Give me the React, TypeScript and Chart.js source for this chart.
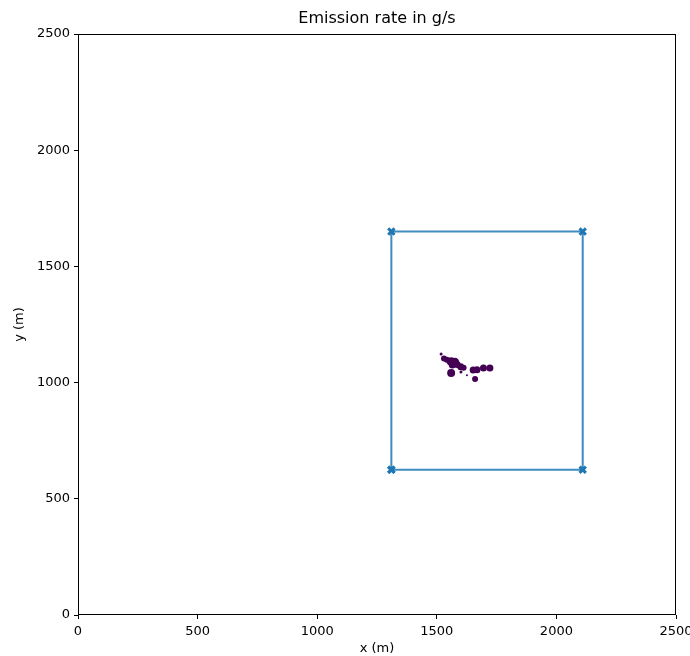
import React, { useEffect, useRef } from "react";
import { Chart, registerables } from "chart.js";

Chart.register(...registerables);

const TITLE = "Emission rate in g/s";
const X_LABEL = "x (m)";
const Y_LABEL = "y (m)";
const AXIS_MIN = 0;
const AXIS_MAX = 2500;
const TICK_STEP = 500;

// Domain rectangle corners (m)
const rectX = [1310, 2110, 2110, 1310, 1310];
const rectY = [625, 625, 1650, 1650, 625];

// Emission blobs (m) and their sizes (px radius)
const blobX = [1518, 1530, 1542, 1560, 1575, 1585, 1565, 1560, 1600, 1612, 1601, 1626, 1652, 1668, 1695, 1722, 1660];
const blobY = [1123, 1104, 1098, 1090, 1088, 1078, 1076, 1041, 1068, 1064, 1046, 1032, 1054, 1055, 1063, 1063, 1016];
const blobR = [1.5, 3, 3, 4.5, 4.5, 3.5, 3.5, 4, 3.5, 3, 1.5, 1, 3.5, 3.5, 3.5, 3.5, 3];

const BLUE = "#1f77b4";
const PURPLE = "#440154";
const FONT = "DejaVu Sans";

export default function App() {
  const ref = useRef<HTMLCanvasElement | null>(null);

  useEffect(() => {
    document.body.style.margin = "0";
    const canvas = ref.current!;
    const framePlugin = {
      id: "frame",
      afterDraw(chart: any) {
        const { ctx, chartArea } = chart;
        ctx.save();
        ctx.strokeStyle = "#000";
        ctx.lineWidth = 1;
        ctx.strokeRect(chartArea.left + 0.5, chartArea.top + 0.5, chartArea.right - chartArea.left - 1, chartArea.bottom - chartArea.top - 1);
        ctx.fillStyle = "#000";
        ctx.font = `16px '${FONT}'`;
        ctx.textAlign = "center";
        ctx.textBaseline = "middle";
        ctx.fillText(TITLE, (chartArea.left + chartArea.right) / 2, 19);
        ctx.restore();
      },
    };

    const ticks: number[] = [];
    for (let v = AXIS_MIN; v <= AXIS_MAX; v += TICK_STEP) ticks.push(v);

    const chart = new Chart(canvas, {
      type: "scatter",
      data: {
        datasets: [
          {
            label: "blobs",
            data: blobX.map((x, i) => ({ x, y: blobY[i] })),
            backgroundColor: PURPLE,
            borderColor: PURPLE,
            borderWidth: 0,
            pointRadius: blobR,
            showLine: false,
          },
          {
            label: "domain",
            data: rectX.map((x, i) => ({ x, y: rectY[i] })),
            showLine: true,
            borderColor: "rgba(31,119,180,0.85)",
            borderWidth: 2,
            pointStyle: "crossRot",
            pointRadius: 4.5,
            pointBorderWidth: 3,
            pointBorderColor: BLUE,
            pointBackgroundColor: BLUE,
          },
        ],
      },
      options: {
        animation: false,
        responsive: false,
        maintainAspectRatio: false,
        layout: { padding: { top: 34, right: 14, left: 0, bottom: 0 } },
        plugins: {
          legend: { display: false },
          tooltip: { enabled: false },
          title: { display: false },
        },
        scales: {
          x: {
            type: "linear",
            min: AXIS_MIN,
            max: AXIS_MAX,
            afterBuildTicks: (s: any) => {
              s.ticks = ticks.map((v) => ({ value: v }));
            },
            afterFit: (s: any) => {
              s.height = 41;
              s.paddingLeft = 0;
              s.paddingRight = 0;
            },
            grid: { drawOnChartArea: false, drawTicks: true, tickLength: 4, color: "#000" },
            border: { display: false },
            ticks: { color: "#000", font: { family: FONT, size: 13 }, padding: 5, maxRotation: 0, autoSkip: false, callback: (v: any) => String(v) },
            title: { display: true, text: X_LABEL, color: "#000", font: { family: FONT, size: 13 }, padding: { top: 4, bottom: 0 } },
          },
          y: {
            type: "linear",
            min: AXIS_MIN,
            max: AXIS_MAX,
            afterBuildTicks: (s: any) => {
              s.ticks = ticks.map((v) => ({ value: v }));
            },
            afterFit: (s: any) => {
              s.width = 78;
              s.paddingTop = 0;
              s.paddingBottom = 0;
            },
            grid: { drawOnChartArea: false, drawTicks: true, tickLength: 4, color: "#000" },
            border: { display: false },
            ticks: { color: "#000", font: { family: FONT, size: 13 }, padding: 4, autoSkip: false, callback: (v: any) => String(v) },
            title: { display: true, text: Y_LABEL, color: "#000", font: { family: FONT, size: 13 }, padding: { top: 12, bottom: 4 } },
          },
        },
      },
      plugins: [framePlugin],
    } as any);
    return () => chart.destroy();
  }, []);

  return <canvas ref={ref} width={690} height={656} style={{ display: "block" }} />;
}
